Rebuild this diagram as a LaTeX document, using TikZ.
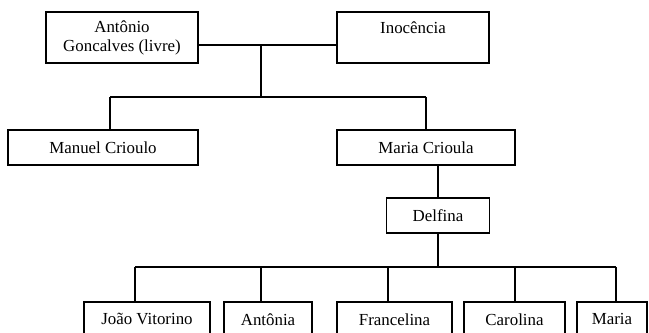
\documentclass[tikz,border=0pt]{standalone}
\usepackage{fontspec}
\setmainfont{Liberation Serif}
\usetikzlibrary{positioning}

\begin{document}
\begin{tikzpicture}[x=0.025cm, y=-0.025cm, line width=1.1pt]
\useasboundingbox (0,0) rectangle (649,333);
\begin{scope}[every node/.style={rectangle,draw,line width=1.1pt,align=center,
              font=\fontsize{12}{13.5}\selectfont,inner sep=0pt,minimum height=0.875cm}]
    \node (antonio) at (122, 37.5) [minimum width=3.8cm, minimum height=1.275cm] {Antônio\\Goncalves (livre)};
    \node (inocencia) at (413, 37.5) [minimum width=3.8cm, minimum height=1.275cm] {Inocência\\\phantom{G}};

    \node (manuel) at (103, 147.5) [minimum width=4.75cm] {Manuel Crioulo};
    \node (mariacr) at (426, 147.5) [minimum width=4.45cm] {Maria Crioula};

    \node (delfina) at (438, 215.5) [minimum width=2.575cm] {Delfina};

    \node (joao) at (147, 301) [anchor=north, minimum width=3.15cm] {João Vitorino};
    \node (antonia) at (268, 301) [anchor=north, minimum width=2.2cm] {Antônia};
    \node (francelina) at (394.5, 301) [anchor=north, minimum width=2.875cm] {Francelina};
    \node (carolina) at (514.5, 301) [anchor=north, minimum width=2.525cm] {Carolina};
    \node (maria) at (612, 301) [anchor=north, minimum width=1.75cm] {Maria};
\end{scope}

% couple and their children
\coordinate (couple) at (261, 45);
\coordinate (sibs) at (261, 97);
\draw (antonio.east |- couple) -- (inocencia.west |- couple);
\draw (couple) -- (sibs);
\draw (110, 97) coordinate (sl) -- (426, 97) coordinate (sr);
\draw (sl) -- (sl |- manuel.north);
\draw (sr) -- (sr |- mariacr.north);

% Maria Crioula -> Delfina
\draw (mariacr.south -| delfina) -- (delfina.north);

% Delfina's children
\coordinate (kids) at (438, 267);
\draw (delfina.south) -- (kids);
\draw (135, 267) coordinate (k1) -- (616, 267) coordinate (k5);
\coordinate (k2) at (261, 267);
\coordinate (k3) at (388, 267);
\coordinate (k4) at (515, 267);
\draw (k1) -- (k1 |- joao.north);
\draw (k2) -- (k2 |- antonia.north);
\draw (k3) -- (k3 |- francelina.north);
\draw (k4) -- (k4 |- carolina.north);
\draw (k5) -- (k5 |- maria.north);
\end{tikzpicture}
\end{document}
